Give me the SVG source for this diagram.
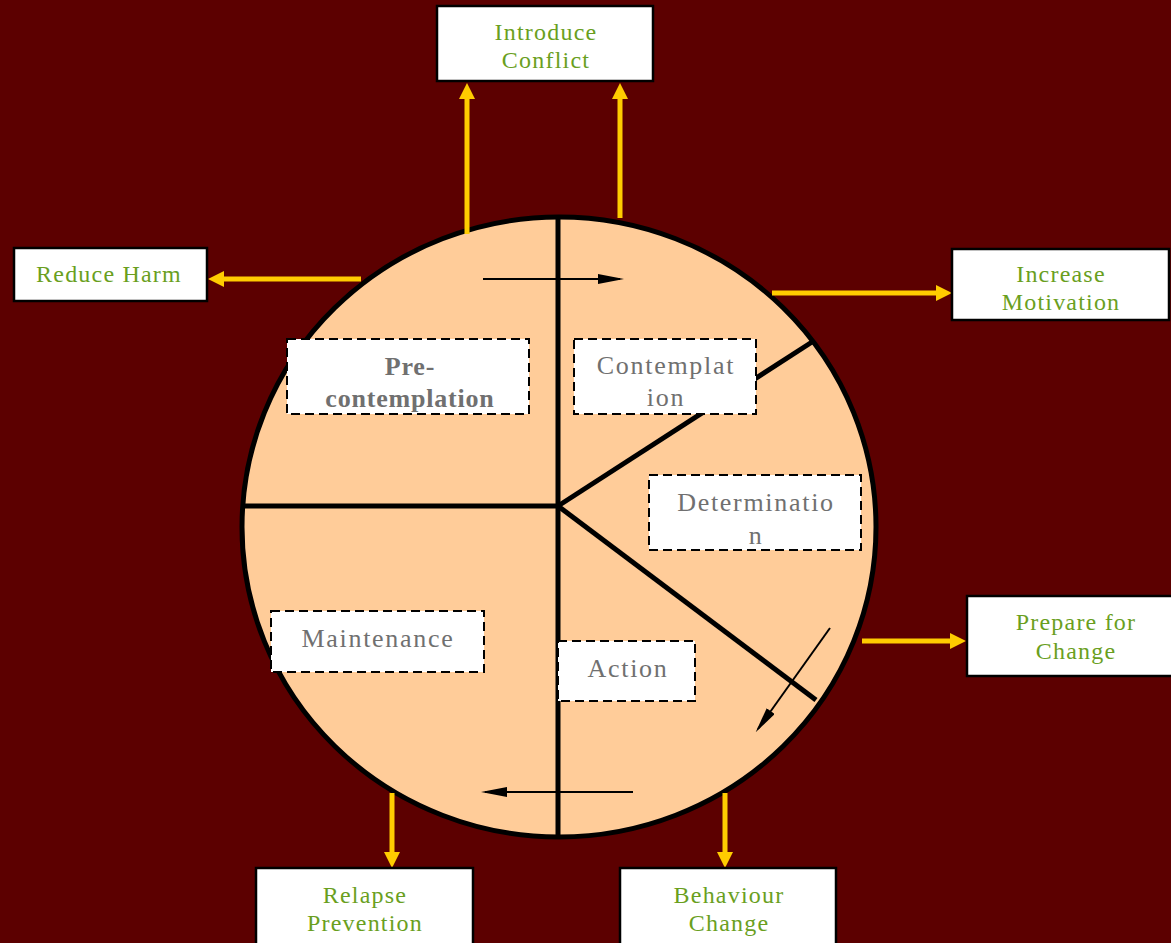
<svg xmlns="http://www.w3.org/2000/svg" width="1171" height="943" viewBox="0 0 1171 943">
<style>
.bg{fill:#5c0000}
.box{fill:#fff;stroke:#000;stroke-width:2.5}
.dbox{fill:#fff;stroke:#000;stroke-width:2;stroke-dasharray:9 5}
.g{font-family:"Liberation Serif",serif;font-size:24px;letter-spacing:1.2px;fill:#6a9f1e;text-anchor:middle}
.t{font-family:"Liberation Serif",serif;font-size:26px;letter-spacing:1.7px;fill:#707070;text-anchor:middle}
.b{font-weight:bold;letter-spacing:0.8px}
.ya{stroke:#ffcc00;stroke-width:5;fill:none;marker-end:url(#ya)}
.bl{stroke:#000;stroke-width:5;fill:none}
.ba{stroke:#000;stroke-width:2;fill:none;marker-end:url(#ba)}
</style>
<defs>
<marker id="ya" viewBox="0 0 16 16" markerWidth="16" markerHeight="16" refX="6" refY="8" orient="auto" markerUnits="userSpaceOnUse">
<path d="M0,0 L16,8 L0,16 Z" fill="#ffcc00"/>
</marker>
<marker id="ba" viewBox="0 0 26 10" markerWidth="26" markerHeight="10" refX="22" refY="5" orient="auto" markerUnits="userSpaceOnUse">
<path d="M0,0 L26,5 L0,10 Z" fill="#000"/>
</marker>
</defs>
<rect class="bg" x="0" y="0" width="1171" height="943"/>
<g id="wheel">
<ellipse cx="559" cy="527" rx="317" ry="310" fill="#ffcc99" stroke="#000" stroke-width="5"/>
<line class="bl" x1="558" y1="217" x2="558" y2="837"/>
<line class="bl" x1="243" y1="506" x2="558" y2="506"/>
<line class="bl" x1="558" y1="506" x2="812" y2="342"/>
<line class="bl" x1="558" y1="506" x2="816" y2="700"/>
</g>
<g id="connectors">
<line class="ya" x1="467" y1="234" x2="467" y2="93"/>
<line class="ya" x1="620" y1="218" x2="620" y2="93"/>
<line class="ya" x1="361" y1="279" x2="218" y2="279"/>
<line class="ya" x1="772" y1="293" x2="942" y2="293"/>
<line class="ya" x1="862" y1="641" x2="956" y2="641"/>
<line class="ya" x1="392" y1="793" x2="392" y2="858"/>
<line class="ya" x1="725" y1="793" x2="725" y2="858"/>
<line class="ba" x1="483" y1="279" x2="620" y2="279"/>
<line class="ba" x1="633" y1="792" x2="485" y2="792"/>
<line class="ba" x1="830" y1="628" x2="758" y2="729"/>
</g>
<g id="introduce-conflict">
<rect class="box" x="437" y="6" width="216" height="75"/>
<text class="g" x="546" y="40">Introduce</text>
<text class="g" x="546" y="68">Conflict</text>
</g>
<g id="reduce-harm">
<rect class="box" x="14" y="248" width="193" height="53"/>
<text class="g" x="109" y="282">Reduce Harm</text>
</g>
<g id="increase-motivation">
<rect class="box" x="952" y="249" width="217" height="71"/>
<text class="g" x="1061" y="282">Increase</text>
<text class="g" x="1061" y="310">Motivation</text>
</g>
<g id="prepare-for-change">
<rect class="box" x="967" y="596" width="206" height="80"/>
<text class="g" x="1076" y="630">Prepare for</text>
<text class="g" x="1076" y="659">Change</text>
</g>
<g id="relapse-prevention">
<rect class="box" x="256" y="868" width="217" height="80"/>
<text class="g" x="365" y="903">Relapse</text>
<text class="g" x="365" y="931">Prevention</text>
</g>
<g id="behaviour-change">
<rect class="box" x="620" y="868" width="216" height="80"/>
<text class="g" x="729" y="903">Behaviour</text>
<text class="g" x="729" y="931">Change</text>
</g>
<g id="pre-contemplation">
<rect class="dbox" x="287" y="339" width="242" height="75"/>
<text class="t b" x="410" y="375">Pre-</text>
<text class="t b" x="410" y="407">contemplation</text>
</g>
<g id="contemplation">
<rect class="dbox" x="574" y="339" width="182" height="75"/>
<text class="t" x="666" y="374">Contemplat</text>
<text class="t" x="666" y="406">ion</text>
</g>
<g id="determination">
<rect class="dbox" x="649" y="475" width="212" height="75"/>
<text class="t" x="756" y="511">Determinatio</text>
<text class="t" x="756" y="544">n</text>
</g>
<g id="maintenance">
<rect class="dbox" x="271" y="611" width="213" height="61"/>
<text class="t" x="378" y="647">Maintenance</text>
</g>
<g id="action">
<rect class="dbox" x="558" y="641" width="137" height="60"/>
<text class="t" x="628" y="677">Action</text>
</g>
</svg>
